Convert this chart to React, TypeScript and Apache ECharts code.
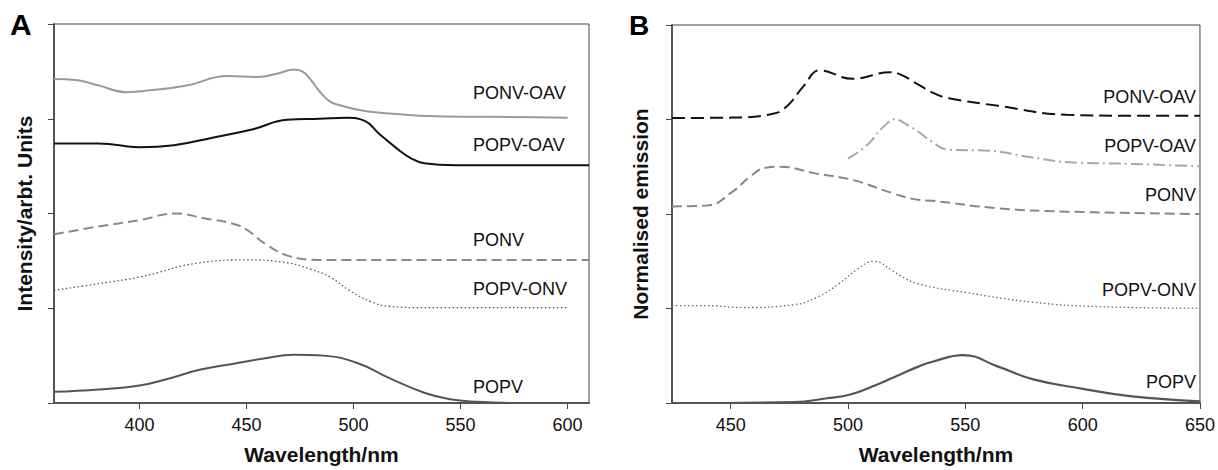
import React, { useEffect, useRef } from "react";
import * as echarts from "echarts";

// ---------- Panel A (absorption) ----------
const aTicks = [400, 450, 500, 550, 600];
const aWlPonvOav = [360, 370, 381, 394, 405, 422, 441, 455, 465, 472, 476, 480, 484, 489, 494, 501, 509, 520, 533, 550, 564, 600];
const aPonvOav = [3.42, 3.41, 3.35, 3.28, 3.3, 3.35, 3.45, 3.44, 3.48, 3.52, 3.5, 3.41, 3.29, 3.18, 3.14, 3.1, 3.07, 3.05, 3.03, 3.02, 3.02, 3.01];
const aWlPopvOav = [360, 381, 400, 416, 434, 453, 469, 484, 497, 505, 512, 520, 527, 533, 548, 610];
const aPopvOav = [2.74, 2.74, 2.7, 2.72, 2.8, 2.89, 2.99, 3.0, 3.01, 2.98, 2.84, 2.69, 2.58, 2.53, 2.51, 2.51];
const aWlPonv = [360, 380, 400, 417, 430, 444, 450, 459, 470, 484, 500, 610];
const aPonv = [1.78, 1.86, 1.93, 2.0, 1.95, 1.89, 1.83, 1.675, 1.55, 1.51, 1.508, 1.508];
const aWlPopvOnv = [360, 381, 400, 428, 450, 469, 480, 489, 498, 508, 517, 533, 600];
const aPopvOnv = [1.19, 1.26, 1.33, 1.48, 1.51, 1.48, 1.41, 1.33, 1.19, 1.07, 1.02, 1.006, 1.006];
const aWlPopv = [360, 381, 400, 413, 428, 444, 458, 472, 486, 502, 517, 533, 545, 558, 575];
const aPopv = [0.118, 0.143, 0.185, 0.254, 0.35, 0.415, 0.47, 0.51, 0.5, 0.42, 0.26, 0.108, 0.04, 0.013, 0];

// ---------- Panel B (emission) ----------
const bTicks = [450, 500, 550, 600, 650];
const bWlPonvOav = [425, 451, 468, 474, 481, 488, 502, 518, 522, 530, 536, 543, 564, 593, 621, 650];
const bPonvOav = [3.016, 3.02, 3.06, 3.14, 3.35, 3.52, 3.43, 3.5, 3.48, 3.37, 3.285, 3.225, 3.145, 3.05, 3.04, 3.04];
const bWlPopvOav = [500, 508, 515, 520.5, 522, 530, 536, 543, 560, 578, 593, 621, 650];
const bPopvOav = [2.586, 2.725, 2.92, 3.005, 2.99, 2.87, 2.76, 2.68, 2.67, 2.6, 2.55, 2.53, 2.505];
const bWlPonv = [425, 440, 451, 458, 465, 471, 486, 502, 519, 530, 536, 564, 593, 650];
const bPonv = [2.08, 2.09, 2.24, 2.39, 2.49, 2.5, 2.43, 2.36, 2.22, 2.15, 2.14, 2.06, 2.025, 2.0];
const bWlPopvOnv = [425, 440, 455, 477, 487, 496, 504, 511, 519, 522, 530, 550, 579, 607, 650];
const bPopvOnv = [1.03, 1.03, 1.01, 1.04, 1.12, 1.26, 1.415, 1.5, 1.4, 1.35, 1.26, 1.17, 1.066, 1.02, 1.003];
const bWlPopv = [425, 477, 491, 501, 512, 522, 530, 536, 549, 564, 579, 600, 621, 650];
const bPopv = [0, 0.01, 0.05, 0.09, 0.19, 0.3, 0.385, 0.437, 0.507, 0.385, 0.25, 0.15, 0.07, 0.018];

const seriesNames = ["PONV-OAV", "POPV-OAV", "PONV", "POPV-ONV", "POPV"];

const FONT = "'Liberation Sans', Arial, sans-serif";

const zip = (xs: number[], ys: number[]) => xs.map((x, i) => [x, ys[i]]);

export default function App() {
  const ref = useRef<HTMLDivElement>(null);
  useEffect(() => {
    if (!ref.current) return;
    const chart = echarts.init(ref.current, undefined, { renderer: "svg" });

    const xAxisBase = (min: number, max: number, ticks: number[]) => ({
      type: "value",
      min,
      max,
      name: "Wavelength/nm",
      nameLocation: "middle",
      nameGap: 41,
      nameTextStyle: { fontFamily: FONT, fontSize: 21, fontWeight: "bold", color: "#111" },
      axisLine: { show: true, onZero: false, lineStyle: { color: "#555", width: 2 } },
      axisTick: { show: true, inside: false, length: 6, customValues: ticks, lineStyle: { color: "#444", width: 1 } },
      axisLabel: { show: true, margin: 13, customValues: ticks, fontFamily: FONT, fontSize: 18, color: "#111" },
      splitLine: { show: false },
    });
    const yAxisBase = (name: string, gap: number) => ({
      type: "value",
      min: 0,
      max: 4,
      interval: 1,
      name,
      nameLocation: "middle",
      nameGap: gap,
      nameTextStyle: { fontFamily: FONT, fontSize: 21, fontWeight: "bold", color: "#111" },
      axisLine: { show: true, lineStyle: { color: "#555", width: 2 } },
      axisTick: { show: true, inside: false, length: 6, lineStyle: { color: "#444", width: 1 } },
      axisLabel: { show: false },
      splitLine: { show: false },
    });

    const line = (
      name: string,
      data: number[][],
      idx: number,
      color: string,
      width: number,
      type: any
    ) => ({
      type: "line",
      name,
      data,
      xAxisIndex: idx,
      yAxisIndex: idx,
      showSymbol: false,
      symbol: "none",
      smooth: 0.45,
      lineStyle: { color, width, type },
      silent: true,
    });

    const label = (text: string, x: number, y: number, align: string) => ({
      type: "text",
      x,
      y,
      style: { text, fill: "#111", font: `18px ${FONT}`, textAlign: align, textVerticalAlign: "middle" },
    });

    const aLabelY = [93, 144.5, 240, 289.3, 387];
    const bLabelY = [97.3, 146.3, 195.3, 290.3, 381.7];

    const option: any = {
      animation: false,
      backgroundColor: "#fff",
      grid: [
        { left: 54, top: 24, width: 535, height: 383, show: true, borderColor: "#444", borderWidth: 1, containLabel: false },
        { left: 672, top: 25, width: 530, height: 382, show: true, borderColor: "#444", borderWidth: 1, containLabel: false },
      ],
      xAxis: [
        { ...xAxisBase(360, 610, aTicks), gridIndex: 0 },
        { ...xAxisBase(425, 650, bTicks), gridIndex: 1 },
      ],
      yAxis: [
        { ...yAxisBase("Intensity/arbt. Units", 19), gridIndex: 0 },
        { ...yAxisBase("Normalised emission", 21), gridIndex: 1 },
      ],
      series: [
        line(seriesNames[0], zip(aWlPonvOav, aPonvOav), 0, "#9a9a9a", 2, "solid"),
        line(seriesNames[1], zip(aWlPopvOav, aPopvOav), 0, "#111", 2, "solid"),
        line(seriesNames[2], zip(aWlPonv, aPonv), 0, "#8a8a8a", 2, [10, 5]),
        line(seriesNames[3], zip(aWlPopvOnv, aPopvOnv), 0, "#555", 1.3, [1.5, 2.5]),
        line(seriesNames[4], zip(aWlPopv, aPopv), 0, "#555", 2, "solid"),
        line(seriesNames[0], zip(bWlPonvOav, bPonvOav), 1, "#111", 2, [13, 6]),
        line(seriesNames[1], zip(bWlPopvOav, bPopvOav), 1, "#a8a8a8", 2, [12, 4, 2, 4]),
        line(seriesNames[2], zip(bWlPonv, bPonv), 1, "#888", 2, [10, 5]),
        line(seriesNames[3], zip(bWlPopvOnv, bPopvOnv), 1, "#666", 1.3, [1.5, 2.5]),
        line(seriesNames[4], zip(bWlPopv, bPopv), 1, "#555", 2.2, "solid"),
      ],
      graphic: [
        { type: "text", x: 10, y: 24, style: { text: "A", fill: "#000", font: `bold 30px ${FONT}`, textAlign: "left", textVerticalAlign: "middle" } },
        { type: "text", x: 629, y: 25, style: { text: "B", fill: "#000", font: `bold 28px ${FONT}`, textAlign: "left", textVerticalAlign: "middle" } },
        ...seriesNames.map((n, i) => label(n, 473, aLabelY[i], "left")),
        ...seriesNames.map((n, i) => label(n, 1196, bLabelY[i], "right")),
      ],
    };
    chart.setOption(option);
    return () => chart.dispose();
  }, []);
  return (
    <div
      ref={ref}
      style={{ position: "fixed", left: 0, top: 0, width: 1218, height: 470, background: "#fff" }}
    />
  );
}
